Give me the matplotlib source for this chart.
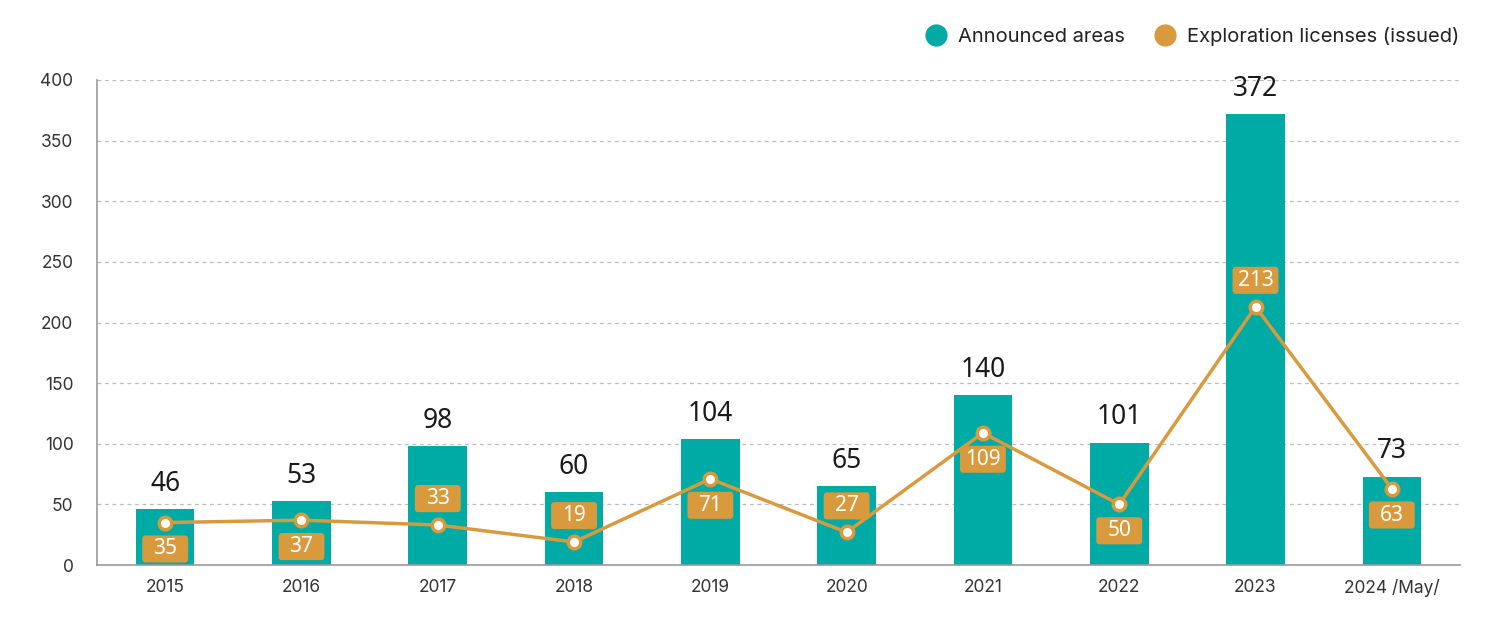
import matplotlib
matplotlib.use("Agg")
import matplotlib.pyplot as plt
import matplotlib.transforms as mtransforms
from matplotlib.patches import FancyBboxPatch
from matplotlib.lines import Line2D

years = ["2015", "2016", "2017", "2018", "2019", "2020", "2021", "2022", "2023", "2024 /May/"]
announced_areas = [46, 53, 98, 60, 104, 65, 140, 101, 372, 73]
licenses_issued = [35, 37, 33, 19, 71, 27, 109, 50, 213, 63]
label_side = ["below", "below", "above", "above", "below", "above", "below", "below", "above", "below"]

TEAL = "#00ABA6"
ORANGE = "#D99A3E"

fig = plt.figure(figsize=(15, 6.22), dpi=100)
ax = fig.add_axes([0.0647, 0.0916, 0.9086, 0.7798])

x = list(range(len(years)))
ax.bar(x, announced_areas, width=0.43, color=TEAL, zorder=2)
ax.plot(x, licenses_issued, color=ORANGE, lw=2.5, zorder=3,
        marker="o", markersize=9, markerfacecolor="white",
        markeredgecolor=ORANGE, markeredgewidth=2.5)

for xi, v in zip(x, announced_areas):
    ax.annotate(str(v), (xi, v), xytext=(0, 8), textcoords="offset points",
                ha="center", va="bottom", fontsize=19, color="#1a1a1a",
                family="Noto Sans", zorder=5)

BOX_W, BOX_H = 33.0, 19.5  # points
pt2px = mtransforms.Affine2D().scale(1 / 72.0) + fig.dpi_scale_trans
for xi, v, side in zip(x, licenses_issued, label_side):
    dy = 19 if side == "above" else -19
    trans = pt2px + mtransforms.ScaledTranslation(xi, v, ax.transData)
    box = FancyBboxPatch((-BOX_W / 2, dy - BOX_H / 2), BOX_W, BOX_H,
                         boxstyle="round,pad=0,rounding_size=2.5",
                         fc=ORANGE, ec="none", transform=trans, zorder=6,
                         clip_on=False)
    ax.add_patch(box)
    ax.annotate(str(v), (xi, v), xytext=(0, dy), textcoords="offset points",
                ha="center", va="center", fontsize=15, color="white",
                family="Noto Sans", zorder=7)

ax.set_xlim(-0.5, len(years) - 0.5)
ax.set_ylim(0, 400)
ax.set_yticks(range(0, 401, 50))
ax.set_xticks(x)
ax.set_xticklabels(years)
ax.tick_params(axis="both", length=0, labelsize=12.5, colors="#333333")
ax.tick_params(axis="x", pad=10)
ax.tick_params(axis="y", pad=17)
for lab in ax.get_xticklabels() + ax.get_yticklabels():
    lab.set_family("Inter")

ax.grid(axis="y", linestyle=(0, (3, 3)), color="#bbbbbb", lw=0.9, zorder=0)
ax.set_axisbelow(True)
for s in ["top", "right"]:
    ax.spines[s].set_visible(False)
for s in ["left", "bottom"]:
    ax.spines[s].set_color("#999999")
    ax.spines[s].set_linewidth(1.2)

handles = [
    Line2D([], [], marker="o", ls="none", markersize=15, markerfacecolor=TEAL, markeredgecolor=TEAL),
    Line2D([], [], marker="o", ls="none", markersize=15, markerfacecolor=ORANGE, markeredgecolor=ORANGE),
]
fig.legend(handles, ["Announced areas", "Exploration licenses (issued)"],
           loc="upper right", bbox_to_anchor=(0.985, 0.985), ncol=2, frameon=False,
           prop={"family": "Inter", "size": 14.5}, handletextpad=0.1, columnspacing=1.0,
           labelcolor="#222222")

fig.savefig("out.png", dpi=100)
